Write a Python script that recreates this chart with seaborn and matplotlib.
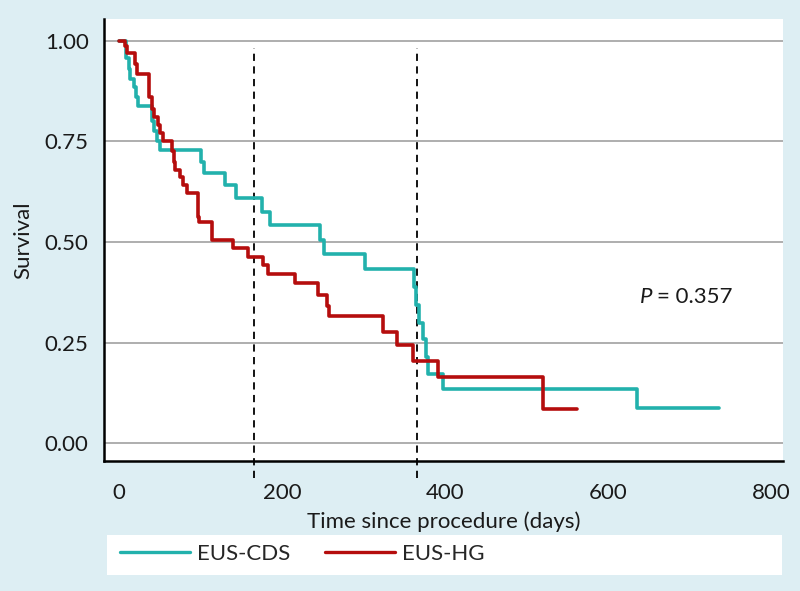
import matplotlib
matplotlib.use("Agg")
import matplotlib.pyplot as plt
import seaborn as sns
from matplotlib.patches import Rectangle

# Kaplan-Meier step points (days, survival)
cds_days = [0, 8.6, 12, 14, 18, 21, 23, 40.5, 43, 46, 50, 101, 104, 130, 144,
            175, 185, 246, 251.6, 301.5, 362, 364.5, 368, 372.7, 376, 379,
            397.5, 634.6, 735.8]
cds_surv = [1.0, 0.958, 0.93, 0.905, 0.884, 0.859, 0.838, 0.801, 0.776, 0.752,
            0.728, 0.70, 0.671, 0.642, 0.609, 0.575, 0.542, 0.505, 0.47, 0.433,
            0.389, 0.343, 0.298, 0.258, 0.215, 0.172, 0.134, 0.088, 0.088]

hg_days = [0, 7, 9.5, 20, 22.5, 36.4, 40.5, 42.9, 47.8, 50.5, 54, 64.6, 67.4,
           68.6, 74.8, 78.8, 83, 97.2, 98.5, 113.6, 140, 158.5, 176.9, 183,
           215.7, 244.3, 254.6, 257.4, 324, 340.4, 360.7, 391.4, 520, 561.8]
hg_surv = [1.0, 0.988, 0.969, 0.943, 0.917, 0.86, 0.83, 0.81, 0.79, 0.77,
           0.752, 0.725, 0.70, 0.679, 0.662, 0.642, 0.621, 0.563, 0.55, 0.505,
           0.484, 0.463, 0.443, 0.421, 0.398, 0.368, 0.34, 0.315, 0.277, 0.244,
           0.205, 0.164, 0.085, 0.085]

group_names = ["EUS-CDS", "EUS-HG"]
group_colors = ["#22b1ac", "#b50d0d"]
ref_days = [165, 365]
x_ticks = [0, 200, 400, 600, 800]
y_ticks = [0.0, 0.25, 0.5, 0.75, 1.0]
p_text = "= 0.357"

FS = 16
ink = "#1a1a1a"

sns.set_style("white")
plt.rcParams["font.family"] = ["Lato", "DejaVu Sans"]

fig = plt.figure(figsize=(8, 5.91), dpi=100)
fig.patch.set_facecolor("#ddeef3")
ax = fig.add_axes([104 / 800, 130 / 591, 679 / 800, 442 / 591])
ax.set_facecolor("white")

for yv in y_ticks:
    ax.axhline(yv, color="#a8a8a8", lw=1.3, zorder=1)

for xd in ref_days:
    ax.plot([xd, xd], [-0.086, 0.981], color="black", lw=1.3,
            ls=(0, (4, 3)), clip_on=False, zorder=2)

sns.lineplot(x=cds_days, y=cds_surv, drawstyle="steps-post", color=group_colors[0],
             lw=2.6, estimator=None, ax=ax, zorder=3)
sns.lineplot(x=hg_days, y=hg_surv, drawstyle="steps-post", color=group_colors[1],
             lw=2.6, estimator=None, ax=ax, zorder=4)

ax.set_xlim(-18.4, 813.9)
ax.set_ylim(-0.044, 1.054)
ax.set_xticks(x_ticks)
ax.set_yticks(y_ticks)
ax.set_yticklabels([f"{v:.2f}" for v in y_ticks])
ax.tick_params(axis="both", direction="out", length=8, width=1.2, color="black",
               labelsize=FS, labelcolor=ink, pad=3)
ax.tick_params(axis="x", pad=8)
for s in ["top", "right"]:
    ax.spines[s].set_visible(False)
for s in ["left", "bottom"]:
    ax.spines[s].set_color("black")
    ax.spines[s].set_linewidth(1.8)

ax.set_xlabel("Time since procedure (days)", fontsize=FS, color=ink, labelpad=6)
ax.set_ylabel("Survival", fontsize=FS, color=ink, labelpad=8)

ax.text(638.5, 0.363, "P", fontsize=FS, style="italic", va="center", ha="left", color=ink)
ax.text(659, 0.363, p_text, fontsize=FS, va="center", ha="left", color=ink)

fig.add_artist(Rectangle((107 / 800, 16 / 591), 675 / 800, 40 / 591,
                         transform=fig.transFigure, facecolor="white",
                         edgecolor="none", zorder=0))
handles = [plt.Line2D([], [], color=c, lw=2.4) for c in group_colors]
fig.legend(handles, group_names, loc="center left", ncol=2, frameon=False,
           bbox_to_anchor=(120 / 800, 37 / 591), fontsize=FS,
           borderpad=0, borderaxespad=0,
           handlelength=3.15, handletextpad=0.3, columnspacing=1.6)

fig.savefig("out.png", dpi=100, facecolor=fig.get_facecolor())
